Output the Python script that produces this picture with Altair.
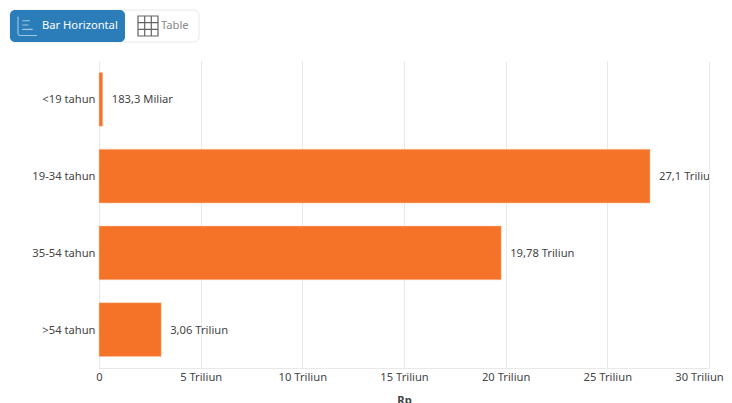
import altair as alt
import pandas as pd

categories = ["<19 tahun", "19-34 tahun", "35-54 tahun", ">54 tahun"]
values = [0.1833, 27.1, 19.78, 3.06]
labels = ["183,3 Miliar", "27,1 Triliun", "19,78 Triliun", "3,06 Triliun"]
ticks = [0, 5, 10, 15, 20, 25, 30]

FONT = "Noto Sans"
TXT = "#444444"
ORANGE = "#f47328"
BLUE = "#2a7db8"
GRID = "#e8e8e8"
FS = 11.2

df = pd.DataFrame({"cat": categories, "val": values, "lab": labels})

x = alt.X("val:Q", scale=alt.Scale(domain=[0, 30], nice=False),
          axis=alt.Axis(values=ticks, title="Rp", grid=True, gridColor=GRID, gridWidth=1,
                        domainColor=GRID, ticks=False, labelPadding=3, labelFont=FONT,
                        labelFontSize=FS, labelColor=TXT, labelOverlap=False, labelFlush=False,
                        labelOffset={"condition": {"test": "datum.value == 30", "value": -10}, "value": 0},
                        labelExpr="datum.value == 0 ? '0' : datum.value + ' Triliun'",
                        titleFont=FONT, titleFontSize=FS, titleColor=TXT, titleFontWeight="bold",
                        titlePadding=12))
y = alt.Y("cat:N", sort=categories,
          scale=alt.Scale(paddingInner=0.3, paddingOuter=0.15),
          axis=alt.Axis(title=None, grid=False, domainColor=GRID, ticks=False, labelPadding=4,
                        labelOffset=1, labelFont=FONT, labelFontSize=FS, labelColor=TXT))

bars = alt.Chart(df).mark_bar(color=ORANGE, stroke="#fbc9a8", strokeWidth=0.5).encode(x=x, y=y)
text = alt.Chart(df).mark_text(align="left", baseline="middle", dx=9, dy=1, font=FONT, fontSize=FS,
                               color=TXT, clip=True).encode(x="val:Q", y=alt.Y("cat:N", sort=categories), text="lab:N")

one = pd.DataFrame({"k": [0]})
def box(x0, x1, y0, y1, **kw):
    return alt.Chart(one).mark_rect(**kw).encode(x=alt.value(x0), x2=alt.value(x1), y=alt.value(y0), y2=alt.value(y1))

outer = box(-89, 100, -51, -19, color="#ffffff", stroke="#e9e9e9", strokeWidth=1, cornerRadius=5)
active = box(-89, 26, -51, -19, color=BLUE, cornerRadius=5)
bar_icon = alt.Chart(one).mark_point(
    shape="M-1 -1 L-1 0.8 Q-1 1 -0.8 1 L1 1 M-0.55 -0.55 L0.25 -0.55 M-0.55 -0.1 L0.1 -0.1 M-0.55 0.35 L0.55 0.35",
    size=361, filled=False, stroke="#d5e6f2", strokeWidth=1.1
).encode(x=alt.value(-71.5), y=alt.value(-35))
grid_icon = alt.Chart(one).mark_point(
    shape="M-1 -1 L1 -1 L1 1 L-1 1 Z M-0.33 -1 L-0.33 1 M0.33 -1 L0.33 1 M-1 -0.33 L1 -0.33 M-1 0.33 L1 0.33",
    size=400, filled=False, stroke="#222222", strokeWidth=1.2
).encode(x=alt.value(49), y=alt.value(-35))
t1 = alt.Chart(one).mark_text(text="Bar Horizontal", align="left", baseline="middle", font=FONT,
                              fontSize=FS, color="#ffffff").encode(x=alt.value(-57), y=alt.value(-35))
t2 = alt.Chart(one).mark_text(text="Table", align="left", baseline="middle", font=FONT,
                              fontSize=FS, color="#888888").encode(x=alt.value(62), y=alt.value(-35))

chart = alt.layer(bars, text, outer, active, bar_icon, grid_icon, t1, t2).properties(
    width=610, height=307,
    autosize=alt.AutoSizeParams(type="none"),
    padding={"left": 91, "top": 53, "right": 15, "bottom": 35},
    background="#ffffff",
).configure_view(stroke=None)

chart.save("out.html", embed_options={"renderer": "svg", "actions": False})
